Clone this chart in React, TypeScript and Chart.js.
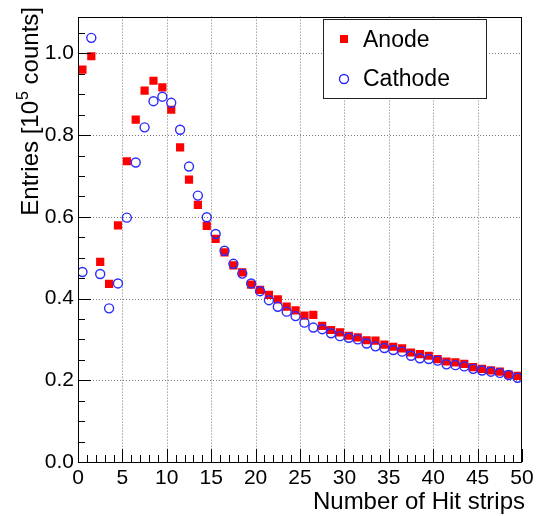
import React, { useEffect, useRef } from "react";
import { Chart, registerables } from "chart.js";

Chart.register(...registerables);

// Number of hit strips (bin low edges, bin width 1)
const strips = [
  0, 1, 2, 3, 4, 5, 6, 7, 8, 9,
  10, 11, 12, 13, 14, 15, 16, 17, 18, 19,
  20, 21, 22, 23, 24, 25, 26, 27, 28, 29,
  30, 31, 32, 33, 34, 35, 36, 37, 38, 39,
  40, 41, 42, 43, 44, 45, 46, 47, 48, 49,
];

// Entries [10^5 counts]
const anode = [
  0.96, 0.993, 0.49, 0.436, 0.579, 0.736, 0.838, 0.909, 0.933, 0.917,
  0.862, 0.77, 0.691, 0.629, 0.578, 0.546, 0.513, 0.481, 0.464, 0.434,
  0.421, 0.409, 0.398, 0.38, 0.371, 0.358, 0.36, 0.333, 0.323, 0.317,
  0.309, 0.305, 0.298, 0.297, 0.287, 0.282, 0.278, 0.268, 0.264, 0.26,
  0.252, 0.246, 0.244, 0.24, 0.232, 0.228, 0.224, 0.221, 0.214, 0.211,
];

const cathode = [
  0.465, 1.038, 0.46, 0.376, 0.437, 0.598, 0.733, 0.819, 0.883, 0.894,
  0.879, 0.813, 0.723, 0.652, 0.599, 0.558, 0.517, 0.485, 0.461, 0.437,
  0.418, 0.396, 0.38, 0.368, 0.357, 0.341, 0.329, 0.325, 0.315, 0.308,
  0.304, 0.3, 0.29, 0.283, 0.279, 0.274, 0.27, 0.26, 0.254, 0.252,
  0.248, 0.239, 0.237, 0.234, 0.228, 0.224, 0.221, 0.218, 0.213, 0.206,
];

const xTickValues = [0, 5, 10, 15, 20, 25, 30, 35, 40, 45, 50];
const yTickValues = [0, 0.2, 0.4, 0.6, 0.8, 1.0];
const xRange = [0, 50];
const yRange = [0, 1.09];

const FONT = '"Liberation Sans", Arial, Helvetica, sans-serif';

const rootStyle = {
  id: "rootStyle",
  beforeDatasetsDraw(chart: any) {
    const { ctx, chartArea: a, scales } = chart;
    const x = scales.x;
    const y = scales.y;
    ctx.save();
    ctx.strokeStyle = "#777";
    ctx.lineWidth = 1;
    ctx.setLineDash([1, 2]);
    for (const v of xTickValues) {
      if (v === xRange[0] || v === xRange[1]) continue;
      const px = Math.round(x.getPixelForValue(v)) + 0.5;
      ctx.beginPath();
      ctx.moveTo(px, a.top);
      ctx.lineTo(px, a.bottom);
      ctx.stroke();
    }
    for (const v of yTickValues) {
      if (v === yRange[0]) continue;
      const py = Math.round(y.getPixelForValue(v)) + 0.5;
      ctx.beginPath();
      ctx.moveTo(a.left, py);
      ctx.lineTo(a.right, py);
      ctx.stroke();
    }
    ctx.restore();
  },
  afterDatasetsDraw(chart: any) {
    const { ctx, chartArea: a, scales } = chart;
    const x = scales.x;
    const y = scales.y;
    ctx.save();
    ctx.strokeStyle = "#000";
    ctx.lineWidth = 1;
    ctx.setLineDash([]);
    // frame
    ctx.strokeRect(Math.round(a.left) + 0.5, Math.round(a.top) + 0.5, Math.round(a.right - a.left) - 1, Math.round(a.bottom - a.top));
    // x ticks (inward)
    ctx.beginPath();
    for (let v = xRange[0]; v <= xRange[1]; v += 1) {
      const major = xTickValues.includes(v);
      const px = Math.round(x.getPixelForValue(v)) + 0.5;
      const len = major ? 13 : 7;
      ctx.moveTo(px, a.bottom);
      ctx.lineTo(px, a.bottom - len);
    }
    // y ticks (inward)
    for (let k = 0; k * 0.05 <= yRange[1] + 1e-9; k++) {
      const v = k * 0.05;
      const major = k % 4 === 0;
      const py = Math.round(y.getPixelForValue(v)) + 0.5;
      const len = major ? 13 : 7;
      ctx.moveTo(a.left, py);
      ctx.lineTo(a.left + len, py);
    }
    ctx.stroke();
    ctx.restore();
  },
  afterDraw(chart: any) {
    const { ctx, chartArea: a } = chart;
    ctx.save();
    ctx.fillStyle = "#000";
    // x title
    ctx.font = `24px ${FONT}`;
    ctx.textAlign = "right";
    ctx.textBaseline = "alphabetic";
    ctx.fillText("Number of Hit strips", a.right + 3, 509);
    // y title with superscript
    const p1 = "Entries [10";
    const sup = "5";
    const p2 = " counts]";
    ctx.font = `24px ${FONT}`;
    const w1 = ctx.measureText(p1).width;
    const w2 = ctx.measureText(p2).width;
    ctx.font = `16px ${FONT}`;
    const ws = ctx.measureText(sup).width;
    const W = w1 + ws + w2;
    ctx.translate(38, 8);
    ctx.rotate(-Math.PI / 2);
    ctx.textAlign = "left";
    ctx.font = `24px ${FONT}`;
    ctx.fillText(p1, -W, 0);
    ctx.font = `16px ${FONT}`;
    ctx.fillText(sup, -W + w1 + 1, -10);
    ctx.font = `24px ${FONT}`;
    ctx.fillText(p2, -W + w1 + ws + 1, 0);
    ctx.restore();

    // legend
    ctx.save();
    ctx.fillStyle = "#fff";
    ctx.fillRect(323, 19, 164, 80);
    ctx.strokeStyle = "#222";
    ctx.lineWidth = 1;
    ctx.strokeRect(323.5, 19.5, 163, 79);
    ctx.fillStyle = "#ff0000";
    ctx.fillRect(340, 35, 8, 8);
    ctx.strokeStyle = "#2b2bff";
    ctx.lineWidth = 1.4;
    ctx.beginPath();
    ctx.arc(344, 79, 4.5, 0, Math.PI * 2);
    ctx.stroke();
    ctx.fillStyle = "#000";
    ctx.font = `23px ${FONT}`;
    ctx.textAlign = "left";
    ctx.textBaseline = "middle";
    ctx.fillText("Anode", 363, 41);
    ctx.fillText("Cathode", 363, 80);
    ctx.restore();
  },
};

export default function App() {
  const canvasRef = useRef<HTMLCanvasElement | null>(null);

  useEffect(() => {
    const canvas = canvasRef.current;
    if (!canvas) return;
    Chart.defaults.font.family = FONT;
    const chart = new Chart(canvas, {
      type: "scatter",
      data: {
        datasets: [
          {
            label: "Anode",
            data: strips.map((s, i) => ({ x: s + 0.5, y: anode[i] })),
            pointStyle: "rect",
            pointRadius: 5.8,
            pointHoverRadius: 5.8,
            backgroundColor: "#ff0000",
            borderColor: "#ff0000",
            borderWidth: 0,
            showLine: false,
            order: 2,
          },
          {
            label: "Cathode",
            data: strips.map((s, i) => ({ x: s + 0.5, y: cathode[i] })),
            pointStyle: "circle",
            pointRadius: 4.5,
            pointHoverRadius: 4.5,
            backgroundColor: "rgba(0,0,0,0)",
            borderColor: "#2b2bff",
            borderWidth: 1.4,
            showLine: false,
            order: 1,
          },
        ],
      },
      options: {
        responsive: false,
        animation: false,
        events: [],
        layout: { padding: { left: 0, top: 4, right: 30, bottom: 0 } },
        plugins: {
          legend: { display: false },
          tooltip: { enabled: false },
        },
        scales: {
          x: {
            type: "linear",
            min: xRange[0],
            max: xRange[1],
            afterFit: (s: any) => {
              s.height = 54;
            },
            afterBuildTicks: (s: any) => {
              s.ticks = xTickValues.map((v) => ({ value: v }));
            },
            grid: { display: false, drawTicks: false, tickLength: 0 },
            border: { display: false },
            ticks: {
              autoSkip: false,
              maxRotation: 0,
              padding: 4,
              color: "#000",
              font: { size: 21, family: FONT },
              callback: (v: any) => String(v),
            },
          },
          y: {
            type: "linear",
            min: yRange[0],
            max: yRange[1],
            afterFit: (s: any) => {
              s.width = 78;
            },
            afterBuildTicks: (s: any) => {
              s.ticks = yTickValues.map((v) => ({ value: v }));
            },
            grid: { display: false, drawTicks: false, tickLength: 0 },
            border: { display: false },
            ticks: {
              padding: 4,
              color: "#000",
              font: { size: 21, family: FONT },
              callback: (v: any) => Number(v).toFixed(1),
            },
          },
        },
      },
      plugins: [rootStyle],
    });
    return () => chart.destroy();
  }, []);

  return (
    <div style={{ position: "fixed", left: 0, top: 0, width: 552, height: 516, background: "#fff" }}>
      <canvas ref={canvasRef} width={552} height={516} style={{ display: "block" }} />
    </div>
  );
}
